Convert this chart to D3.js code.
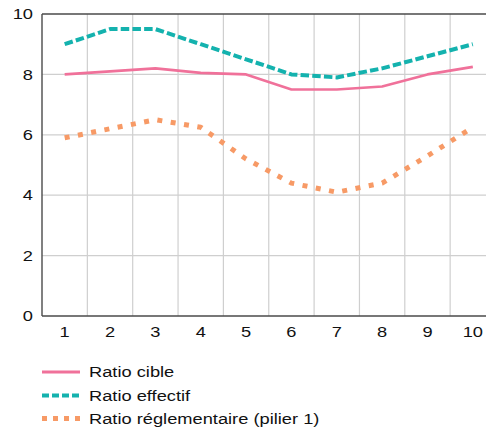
<!DOCTYPE html>
<html>
<head>
<meta charset="utf-8">
<script src="https://cdn.jsdelivr.net/npm/d3@7"></script>
<style>
html,body{margin:0;padding:0;background:#fff;overflow:hidden;}
svg{display:block;font-family:"Liberation Sans",Arial,Helvetica,sans-serif;}
</style>
</head>
<body>
<svg id="chart" width="486" height="430"></svg>
<script>
const categories = [1,2,3,4,5,6,7,8,9,10];
const ratioCible = [8.0, 8.1, 8.2, 8.05, 8.0, 7.5, 7.5, 7.6, 8.0, 8.25];
const ratioEffectif = [9.0, 9.5, 9.5, 9.0, 8.5, 8.0, 7.9, 8.2, 8.6, 9.0];
const ratioReglementaire = [5.9, 6.2, 6.5, 6.25, 5.2, 4.4, 4.1, 4.4, 5.3, 6.25];
const yTicks = [0,2,4,6,8,10];
const seriesNames = ["Ratio cible", "Ratio effectif", "Ratio réglementaire (pilier 1)"];

(function(){
const colors = ["#f0719a", "#14b2ae", "#f79a66"];
const series = [
  {name: seriesNames[0], values: ratioCible, color: colors[0], width: 2.6, dash: null, legendDash: null},
  {name: seriesNames[1], values: ratioEffectif, color: colors[1], width: 4, dash: "8.5,3.2", legendDash: "7,3"},
  {name: seriesNames[2], values: ratioReglementaire, color: colors[2], width: 5, dash: "5,8.5", legendDash: "5,6"}
];

const svg = d3.select("#chart");
const mLeft = 42, mTop = 14, mBottom = 316, mRight = 495.5;
const SX = 1.26, FS = 14.5;

const x = d3.scaleBand().domain(categories).range([mLeft, mRight]).padding(0);
const y = d3.scaleLinear().domain([0,10]).range([mBottom, mTop]);

// grid
const grid = svg.append("g");
grid.selectAll("line.h").data(yTicks.filter(d => d>0 && d<10)).enter().append("line")
  .attr("x1", mLeft).attr("x2", mRight).attr("y1", d => y(d)).attr("y2", d => y(d))
  .attr("stroke", "#cfcfcf").attr("stroke-width", 1.2);
grid.selectAll("line.v").data(categories.slice(1)).enter().append("line")
  .attr("x1", d => x(d)).attr("x2", d => x(d)).attr("y1", mTop).attr("y2", mBottom)
  .attr("stroke", "#cfcfcf").attr("stroke-width", 1.2);

// frame
svg.append("line").attr("x1", mLeft).attr("x2", mRight).attr("y1", mTop).attr("y2", mTop)
  .attr("stroke", "#4a4a4a").attr("stroke-width", 1.4);
svg.append("line").attr("x1", mLeft).attr("x2", mRight).attr("y1", mBottom).attr("y2", mBottom)
  .attr("stroke", "#4a4a4a").attr("stroke-width", 1.4);
svg.append("line").attr("x1", mLeft).attr("x2", mLeft).attr("y1", mTop).attr("y2", mBottom)
  .attr("stroke", "#4a4a4a").attr("stroke-width", 1.4);

function stretchedText(g, tx, ty, txt, anchor) {
  return g.append("text")
    .attr("transform", `translate(${tx},${ty}) scale(${SX},1)`)
    .attr("text-anchor", anchor)
    .attr("font-size", FS)
    .attr("fill", "#111")
    .text(txt);
}

// y tick labels
const yl = svg.append("g");
yTicks.forEach(t => {
  stretchedText(yl, 33, y(t) + 5.2, String(t), "end");
});
// x tick labels
const xl = svg.append("g");
categories.forEach(c => {
  stretchedText(xl, x(c) + x.bandwidth()/2, 337, String(c), "middle");
});

// lines
const line = d3.line()
  .x((d,i) => x(categories[i]) + x.bandwidth()/2)
  .y(d => y(d));

series.forEach(s => {
  const p = svg.append("path")
    .attr("d", line(s.values))
    .attr("fill", "none")
    .attr("stroke", s.color)
    .attr("stroke-width", s.width)
    .attr("stroke-linejoin", "round");
  if (s.dash) p.attr("stroke-dasharray", s.dash);
});

// legend
const lg = svg.append("g");
const rows = [372, 395.5, 418.5];
series.forEach((s, i) => {
  const l = lg.append("line")
    .attr("x1", 42).attr("x2", 80)
    .attr("y1", rows[i]).attr("y2", rows[i])
    .attr("stroke", s.color)
    .attr("stroke-width", s.width === 2.6 ? 2.8 : s.width);
  if (s.legendDash) l.attr("stroke-dasharray", s.legendDash);
  stretchedText(lg, 89, rows[i] + 5.3, s.name, "start");
});
})();
</script>
</body>
</html>
